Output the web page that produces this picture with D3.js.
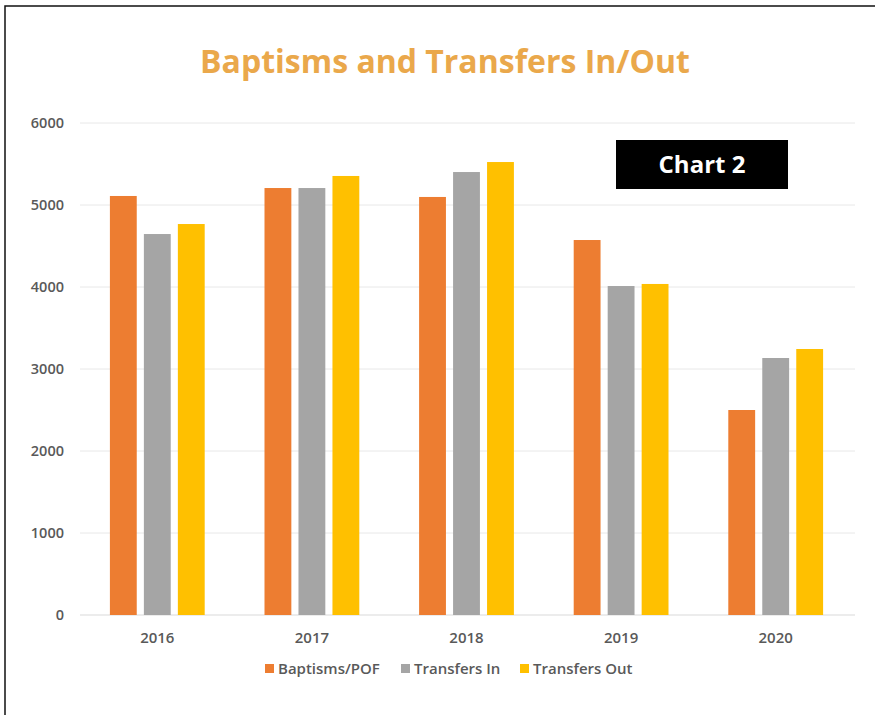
<!DOCTYPE html>
<html><head><meta charset="utf-8">
<script src="https://cdn.jsdelivr.net/npm/d3@7"></script>
<style>body{margin:0;background:#fff;}svg{display:block;}</style>
</head><body>
<svg id="c" width="875" height="715"></svg>
<script>
const years = ["2016","2017","2018","2019","2020"];
const seriesNames = ["Baptisms/POF","Transfers In","Transfers Out"];
const baptisms = [5110,5207,5098,4573,2500];
const transfersIn = [4646,5207,5402,4012,3134];
const transfersOut = [4768,5354,5524,4037,3244];
const yTicks = [0,1000,2000,3000,4000,5000,6000];
const colors = ["#ED7D31","#A5A5A5","#FFC000"];
const seriesValues = [baptisms, transfersIn, transfersOut];

(function(){
const svg = d3.select("#c");
// frame
svg.append("rect").attr("x",5).attr("y",6).attr("width",880).attr("height",720)
  .attr("fill","#fff").attr("stroke","#111").attr("stroke-width",1.5);

const pl=80, pr=853, pt=123, pb=615;
const x = d3.scaleBand().domain(years).range([pl,pr]).paddingInner(0).paddingOuter(0);
const xs = d3.scaleBand().domain(seriesNames).range([0,x.bandwidth()]).paddingInner(0.21).paddingOuter(0.88);
const y = d3.scaleLinear().domain([0,6000]).range([pb,pt]);

// gridlines
svg.append("g").selectAll("line").data(yTicks).join("line")
  .attr("x1",pl).attr("x2",855).attr("y1",d=>y(d)).attr("y2",d=>y(d))
  .attr("stroke",d=>d===0?"#d9d9d9":"#e8e8e8").attr("stroke-width",1);

// y axis labels
const ya = svg.append("g").attr("transform",`translate(67,0)`)
  .call(d3.axisLeft(y).tickValues(yTicks).tickSize(0).tickFormat(d3.format("d")));
ya.select(".domain").remove();
ya.selectAll("text").attr("fill","#595959").style("font-family","'Open Sans',sans-serif")
  .style("font-size","14.5px").style("font-weight","600");

// x axis labels
const xa = svg.append("g").attr("transform",`translate(0,643)`)
  .call(d3.axisBottom(x).tickSize(0));
xa.select(".domain").remove();
xa.selectAll("text").attr("y",0).attr("dy",0).attr("fill","#595959").style("font-family","'Open Sans',sans-serif")
  .style("font-size","15px").style("font-weight","600");

// bars
seriesNames.forEach((s,si)=>{
  svg.append("g").selectAll("rect").data(years).join("rect")
    .attr("x",(d)=>x(d)+xs(s))
    .attr("width",xs.bandwidth())
    .attr("y",(d,i)=>y(seriesValues[si][i]))
    .attr("height",(d,i)=>y(0)-y(seriesValues[si][i]))
    .attr("fill",colors[si]);
});

// title
svg.append("text").attr("x",445).attr("y",73).attr("text-anchor","middle")
  .attr("fill","#EAA84B").style("font-family","'Open Sans',sans-serif")
  .style("font-size","32px").style("font-weight","700").text("Baptisms and Transfers In/Out");

// Chart 2 box
svg.append("rect").attr("x",616).attr("y",140).attr("width",172).attr("height",49).attr("fill","#000");
svg.append("text").attr("x",702).attr("y",173).attr("text-anchor","middle")
  .attr("fill","#fff").style("font-family","'Open Sans',sans-serif")
  .style("font-size","24px").style("font-weight","700").text("Chart 2");

// legend
const legX = [265,401,520];
const leg = svg.append("g");
seriesNames.forEach((s,i)=>{
  leg.append("rect").attr("x",legX[i]).attr("y",664).attr("width",9).attr("height",9).attr("fill",colors[i]);
  leg.append("text").attr("x",legX[i]+13).attr("y",674).attr("fill","#595959")
    .style("font-family","'Open Sans',sans-serif").style("font-size","15px").style("font-weight","600").text(s);
});
})();
</script>
</body></html>
